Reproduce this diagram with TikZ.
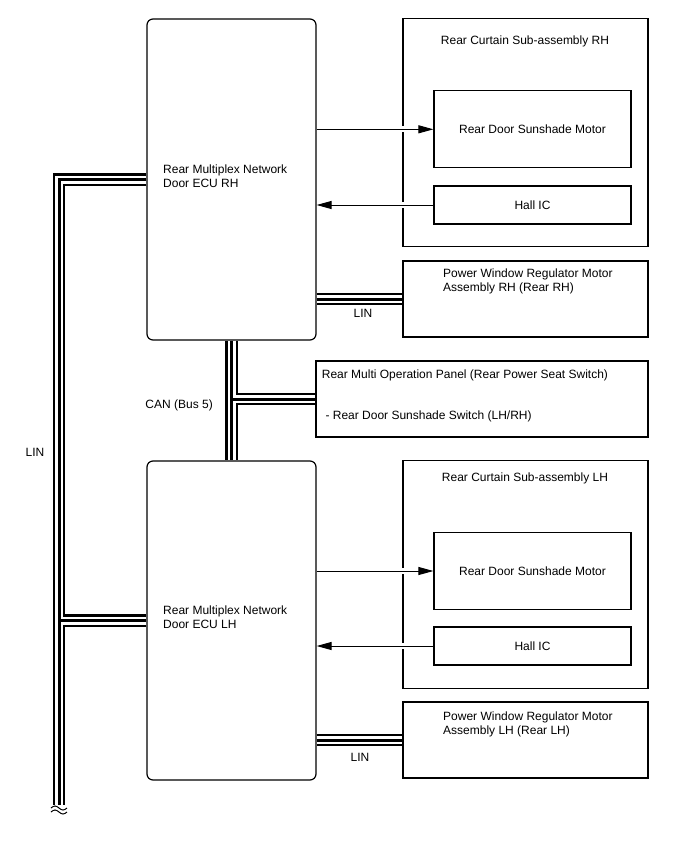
\documentclass[tikz,border=0pt]{standalone}
\usepackage{fontspec}
\setmainfont{Liberation Sans}
\usetikzlibrary{arrows.meta}
\begin{document}
\begin{tikzpicture}[x=1pt,y=-1pt,
  box/.style={draw, line width=1.2pt, rectangle, inner sep=0pt, font=\fontsize{12}{14}\selectfont},
  ecu/.style={box, rounded corners=6pt},
  lbl/.style={inner sep=0pt, font=\fontsize{12}{14}\selectfont},
  sig/.style={line width=1pt, -{Triangle[length=15pt,width=8pt]}},
  bus/.style={line width=12.5pt, postaction={draw=white,line width=8pt}, postaction={draw=black,line width=3pt}}
]
\useasboundingbox (0,0) rectangle (688,852);
% ---------- boxes ----------
\node[box, minimum width=245pt, minimum height=228pt] (curRH) at (525.5,132.8) {};
\node[box, minimum width=245pt, minimum height=228pt] (curLH) at (525.5,574.3) {};
\node[ecu, minimum width=169pt, minimum height=321pt] (ecuRH) at (231.5,179.5) {};
\node[ecu, minimum width=169pt, minimum height=319pt] (ecuLH) at (231.5,620.5) {};
\node[box, minimum width=197pt, minimum height=77pt] (motRH) at (532.5,129.3) {Rear Door Sunshade Motor};
\node[box, minimum width=197pt, minimum height=38pt] (hallRH) at (532.5,205) {Hall IC};
\node[box, minimum width=197pt, minimum height=77pt] (motLH) at (532.5,571) {Rear Door Sunshade Motor};
\node[box, minimum width=197pt, minimum height=38pt] (hallLH) at (532.5,646) {Hall IC};
\node[box, minimum width=245pt, minimum height=76pt] (pwRH) at (525.5,299) {};
\node[box, minimum width=245pt, minimum height=76pt] (pwLH) at (525.5,740) {};
\node[box, minimum width=332pt, minimum height=76pt] (panel) at (482,399) {};
% ---------- labels ----------
\node[lbl, anchor=base] (tCurRH) at (525,44.3) {Rear Curtain Sub-assembly RH};
\node[lbl, anchor=base] (tCurLH) at (525,481.3) {Rear Curtain Sub-assembly LH};
\node[lbl, anchor=north west, align=left] (tEcuRH) at (163,164.5) {Rear Multiplex Network\\Door ECU RH};
\node[lbl, anchor=north west, align=left] (tEcuLH) at (163,605.5) {Rear Multiplex Network\\Door ECU LH};
\node[lbl, anchor=north west, align=left] (tPwRH) at (443,268.5) {Power Window Regulator Motor\\Assembly RH (Rear RH)};
\node[lbl, anchor=north west, align=left] (tPwLH) at (443,711.5) {Power Window Regulator Motor\\Assembly LH (Rear LH)};
\node[lbl, anchor=base west] (tPan1) at (321.7,378.3) {Rear Multi Operation Panel (Rear Power Seat Switch)};
\node[lbl, anchor=base west] (tPan2) at (322,419.3) {\ - Rear Door Sunshade Switch (LH/RH)};
\node[lbl, anchor=base] (tLinRH) at (363,317.3) {LIN};
\node[lbl, anchor=base] (tLinLH) at (360,761.3) {LIN};
\node[lbl, anchor=base] (tLinL) at (35,456.3) {LIN};
\node[lbl, anchor=base east] (tCan) at (213,408.3) {CAN (Bus 5)};
% ---------- signal arrows ----------
\draw[sig, preaction={draw=white,line width=6pt,arrows=-,shorten <=82pt,shorten >=26pt}] (ecuRH.east |- motRH.west) -- (motRH.west);
\draw[sig, preaction={draw=white,line width=6pt,arrows=-,shorten <=26pt,shorten >=82pt}] (hallRH.west) -- (ecuRH.east |- hallRH.west);
\draw[sig, preaction={draw=white,line width=6pt,arrows=-,shorten <=82pt,shorten >=26pt}] (ecuLH.east |- motLH.west) -- (motLH.west);
\draw[sig, preaction={draw=white,line width=6pt,arrows=-,shorten <=26pt,shorten >=82pt}] (hallLH.west) -- (ecuLH.east |- hallLH.west);
% ---------- buses ----------
\coordinate (linEnd) at (59,805);
\draw[bus] (ecuRH.west) -| (linEnd) (ecuLH.west) -- (linEnd |- ecuLH.west);
\draw[bus] (ecuRH.south) -- (ecuLH.north) (ecuRH.south |- panel.west) -- (panel.west);
\draw[bus] (ecuRH.east |- pwRH.west) -- (pwRH.west);
\draw[bus] (ecuLH.east |- pwLH.west) -- (pwLH.west);
% ---------- break mark ----------
\draw[line width=1pt] (51,808) sin (55,806) cos (59,808) sin (63,810) cos (67,808);
\draw[line width=1pt] (51,812) sin (55,810) cos (59,812) sin (63,814) cos (67,812);
\end{tikzpicture}
\end{document}
